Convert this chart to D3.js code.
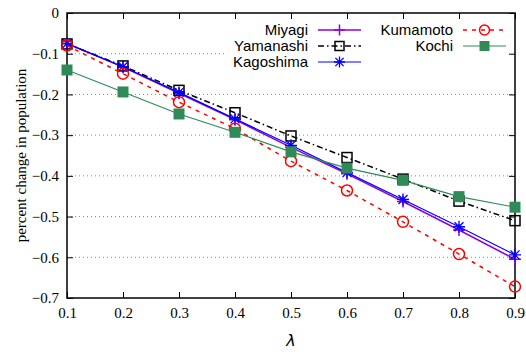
<!DOCTYPE html>
<html>
<head>
<meta charset="utf-8">
<script src="https://cdn.jsdelivr.net/npm/d3@7"></script>
<style>
  body { margin: 0; background: #fff; }
  svg { display: block; }
</style>
</head>
<body>
<svg id="chart" width="526" height="352"></svg>
<script>
var lambdas = [0.1, 0.2, 0.3, 0.4, 0.5, 0.6, 0.7, 0.8, 0.9];
var miyagi = [-0.075, -0.133, -0.197, -0.262, -0.33, -0.395, -0.463, -0.533, -0.605];
var yamanashi = [-0.076, -0.13, -0.19, -0.245, -0.302, -0.355, -0.408, -0.462, -0.51];
var kagoshima = [-0.075, -0.132, -0.195, -0.26, -0.325, -0.392, -0.458, -0.525, -0.594];
var kumamoto = [-0.08, -0.149, -0.219, -0.284, -0.364, -0.436, -0.513, -0.592, -0.672];
var kochi = [-0.14, -0.194, -0.248, -0.293, -0.341, -0.381, -0.411, -0.451, -0.477];
var xTicks = [0.1, 0.2, 0.3, 0.4, 0.5, 0.6, 0.7, 0.8, 0.9];
var yTicks = [0, -0.1, -0.2, -0.3, -0.4, -0.5, -0.6, -0.7];

var series = [
  { name: 'Miyagi', values: miyagi, color: '#9400d3', dash: null, marker: 'plus', width: 1.5 },
  { name: 'Yamanashi', values: yamanashi, color: '#000000', dash: '6,3,1.5,3', marker: 'square', width: 1.5 },
  { name: 'Kagoshima', values: kagoshima, color: '#0000ff', dash: null, marker: 'star', width: 1.2 },
  { name: 'Kumamoto', values: kumamoto, color: '#ff0000', dash: '4,5', marker: 'circle', width: 1.5 },
  { name: 'Kochi', values: kochi, color: '#2e8b57', dash: null, marker: 'fsquare', width: 1.2 }
];

var svg = d3.select('#chart'),
  margin = { top: 13, right: 11, bottom: 54, left: 67 },
  width = +svg.attr('width') - margin.left - margin.right,
  height = +svg.attr('height') - margin.top - margin.bottom;

var x = d3.scaleLinear().domain([0.1, 0.9]).range([0, width]);
var y = d3.scaleLinear().domain([-0.7, 0]).range([height, 0]);

var g = svg.append('g')
  .attr('transform', 'translate(' + margin.left + ',' + margin.top + ')');

// horizontal dotted grid
g.append('g')
  .selectAll('line')
  .data(yTicks.slice(1, -1))
  .join('line')
  .attr('x1', 0).attr('x2', width)
  .attr('y1', (d) => y(d)).attr('y2', (d) => y(d))
  .attr('stroke', '#888')
  .attr('stroke-width', 1)
  .attr('stroke-dasharray', '1,3');

// opaque legend background
var legendBox = { x: 226 - margin.left, y: 22 - margin.top, w: 288, h: 49 };
g.append('rect')
  .attr('x', legendBox.x).attr('y', legendBox.y)
  .attr('width', legendBox.w).attr('height', legendBox.h)
  .attr('fill', '#fff');

// axes (ticks pointing in, mirrored)
var tickLen = 6;
g.append('g')
  .attr('transform', 'translate(0,' + height + ')')
  .call(d3.axisBottom(x).tickValues(xTicks).tickSizeInner(-tickLen).tickSizeOuter(0).tickPadding(9).tickFormat(d3.format('.1f')))
  .call((a) => a.select('.domain').remove());
g.append('g')
  .call(d3.axisTop(x).tickValues(xTicks).tickSizeInner(-tickLen).tickSizeOuter(0).tickFormat(''))
  .call((a) => a.select('.domain').remove());
g.append('g')
  .call(d3.axisLeft(y).tickValues(yTicks).tickSizeInner(-tickLen).tickSizeOuter(0).tickPadding(8)
    .tickFormat((d) => (d === 0 ? '0' : d3.format('.1f')(d))))
  .call((a) => a.select('.domain').remove());
g.append('g')
  .attr('transform', 'translate(' + width + ',0)')
  .call(d3.axisRight(y).tickValues(yTicks).tickSizeInner(-tickLen).tickSizeOuter(0).tickFormat(''))
  .call((a) => a.select('.domain').remove());

g.selectAll('.tick line').attr('stroke', '#000').attr('stroke-width', 1);
g.selectAll('.tick text')
  .attr('font-family', '"Liberation Serif", "Times New Roman", serif')
  .attr('font-size', 15)
  .attr('fill', '#000');

g.append('rect')
  .attr('width', width).attr('height', height)
  .attr('fill', 'none').attr('stroke', '#000').attr('stroke-width', 1.5);

// markers
function drawMarker(sel, type, color, size) {
  var s = size;
  if (type === 'plus') {
    sel.append('path').attr('d', `M${-s},0H${s}M0,${-s}V${s}`)
      .attr('stroke', color).attr('stroke-width', 1.5).attr('fill', 'none');
  } else if (type === 'square') {
    sel.append('rect').attr('x', -s).attr('y', -s).attr('width', 2 * s).attr('height', 2 * s)
      .attr('fill', 'none').attr('stroke', color).attr('stroke-width', 1.5);
  } else if (type === 'star') {
    var d = s * 0.75;
    sel.append('path').attr('d', `M${-s},0H${s}M0,${-s}V${s}M${-d},${-d}L${d},${d}M${-d},${d}L${d},${-d}`)
      .attr('stroke', color).attr('stroke-width', 1.3).attr('fill', 'none');
  } else if (type === 'circle') {
    sel.append('circle').attr('r', s).attr('fill', 'none').attr('stroke', color).attr('stroke-width', 1.5);
  } else if (type === 'fsquare') {
    sel.append('rect').attr('x', -s).attr('y', -s).attr('width', 2 * s).attr('height', 2 * s)
      .attr('fill', color).attr('stroke', 'none');
  }
}
var markerSize = { plus: 6, square: 5, star: 6, circle: 5.5, fsquare: 5.5 };

var line = d3.line()
  .x((d, i) => x(lambdas[i]))
  .y((d) => y(d));

series.forEach(function (s) {
  g.append('path')
    .datum(s.values)
    .attr('d', line)
    .attr('fill', 'none')
    .attr('stroke', s.color)
    .attr('stroke-width', s.width)
    .attr('stroke-dasharray', s.dash);
  s.values.forEach(function (v, i) {
    var m = g.append('g').attr('transform', `translate(${x(lambdas[i])},${y(v)})`);
    drawMarker(m, s.marker, s.color, markerSize[s.marker]);
  });
});

// legend
var legendPos = [
  { tx: 308, y: 30 }, { tx: 308, y: 46 }, { tx: 308, y: 62 },
  { tx: 453, y: 30 }, { tx: 453, y: 46 }
];
series.forEach(function (s, i) {
  var p = legendPos[i];
  var lg = svg.append('g');
  lg.append('text')
    .attr('x', p.tx).attr('y', p.y).attr('dy', '0.35em')
    .attr('text-anchor', 'end')
    .attr('font-family', '"Liberation Sans", Arial, sans-serif')
    .attr('font-size', 15)
    .text(s.name);
  var x0 = p.tx + 10, x1 = p.tx + 53;
  lg.append('line')
    .attr('x1', x0).attr('x2', x1).attr('y1', p.y).attr('y2', p.y)
    .attr('stroke', s.color).attr('stroke-width', s.width)
    .attr('stroke-dasharray', s.dash);
  var m = lg.append('g').attr('transform', `translate(${(x0 + x1) / 2},${p.y})`);
  drawMarker(m, s.marker, s.color, markerSize[s.marker] - 0.5);
});

// axis labels
svg.append('text')
  .attr('transform', 'translate(21,' + (margin.top + height / 2) + ') rotate(-90)')
  .attr('text-anchor', 'middle')
  .attr('dy', '0.35em')
  .attr('font-family', '"Liberation Serif", "Times New Roman", serif')
  .attr('font-size', 15)
  .text('percent change in population');

svg.append('text')
  .attr('x', margin.left + width / 2)
  .attr('y', 346)
  .attr('text-anchor', 'middle')
  .attr('font-family', '"DejaVu Sans", sans-serif')
  .attr('font-style', 'italic')
  .attr('font-size', 16)
  .text('λ');
</script>
</body>
</html>
